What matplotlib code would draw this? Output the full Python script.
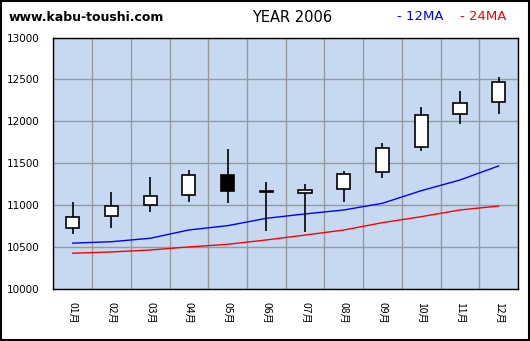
import matplotlib
matplotlib.use("Agg")
import matplotlib.pyplot as plt
from matplotlib.patches import Rectangle
import numpy as np

months = ["01月", "02月", "03月", "04月", "05月", "06月", "07月", "08月", "09月", "10月", "11月", "12月"]
opens  = [10727, 10870, 11000, 11120, 11362, 11170, 11153, 11192, 11395, 11693, 12085, 12229]
closes = [10858, 10990, 11108, 11359, 11175, 11162, 11180, 11372, 11680, 12074, 12217, 12467]
highs  = [11040, 11160, 11338, 11422, 11672, 11280, 11256, 11410, 11744, 12173, 12363, 12530]
lows   = [10663, 10735, 10925, 11045, 11032, 10700, 10687, 11040, 11330, 11648, 11974, 12092]
ma12   = [10550, 10567, 10608, 10707, 10758, 10846, 10898, 10945, 11025, 11175, 11302, 11470]
ma24   = [10430, 10445, 10468, 10505, 10536, 10588, 10646, 10706, 10794, 10865, 10945, 10992]
yticks = [10000, 10500, 11000, 11500, 12000, 12500, 13000]

W, H = 530, 341
fig = plt.figure(figsize=(W / 100, H / 100), dpi=100)
fig.patch.set_facecolor("white")
ax = fig.add_axes([53.4 / W, 1 - 289.3 / H, (518 - 53.4) / W, (289.3 - 37.5) / H])
ax.set_facecolor("#C6D9F1")

x = np.arange(len(months))
ax.set_xlim(-0.5, len(months) - 0.5)
ax.set_ylim(yticks[0], yticks[-1])

# grid
ax.set_xticks(x)
ax.set_xticks(np.arange(-0.5, len(months) + 0.5, 1), minor=True)
ax.set_yticks(yticks)
ax.grid(True, which="minor", axis="x", color="#999999", linewidth=1.0, zorder=0)
ax.grid(True, which="major", axis="y", color="#999999", linewidth=1.0, zorder=0)
ax.set_axisbelow(True)

# moving averages
ax.plot(x, ma12, color="#0000FF", linewidth=1.0, zorder=2)
ax.plot(x, ma24, color="#FF0000", linewidth=1.0, zorder=2)

# candles
bw = 0.34
for i in range(len(months)):
    o, c, h, l = opens[i], closes[i], highs[i], lows[i]
    ax.vlines(x[i], l, h, color="black", linewidth=1.2, zorder=3)
    up = c >= o
    ax.bar(x[i], abs(c - o), bottom=min(o, c), width=bw,
           color="white" if up else "black", edgecolor="black",
           linewidth=1.2, zorder=4)

for s in ax.spines.values():
    s.set_color("black")
    s.set_linewidth(1.0)

ax.tick_params(which="both", length=0)
ax.tick_params(axis="y", pad=10, labelsize=7.5)
ax.set_yticklabels([str(v) for v in yticks], fontfamily="DejaVu Sans")
ax.set_xticklabels(months, rotation=-90, fontsize=7.5,
                   fontfamily=["Noto Sans CJK JP", "DejaVu Sans"])
ax.tick_params(axis="x", pad=9)

# header texts
fig.text(8.5 / W, 1 - 17.5 / H, "www.kabu-toushi.com", fontsize=9, fontweight="bold",
         ha="left", va="center", color="black", fontfamily="DejaVu Sans")
fig.text(292 / W, 1 - 17 / H, "YEAR 2006", fontsize=10.5, ha="center", va="center",
         color="black", fontfamily="DejaVu Sans")
fig.text(397 / W, 1 - 17 / H, "- 12MA", fontsize=9.5, ha="left", va="center",
         color="#0000FF", fontfamily="DejaVu Sans")
fig.text(460 / W, 1 - 17 / H, "- 24MA", fontsize=9.5, ha="left", va="center",
         color="#FF0000", fontfamily="DejaVu Sans")

# outer frame
fig.patches.append(Rectangle((0.5 / W, 1.5 / H), (W - 1.5) / W, (H - 2.5) / H,
                             transform=fig.transFigure, fill=False,
                             edgecolor="black", linewidth=1.5))

fig.savefig("out.png", dpi=100)
